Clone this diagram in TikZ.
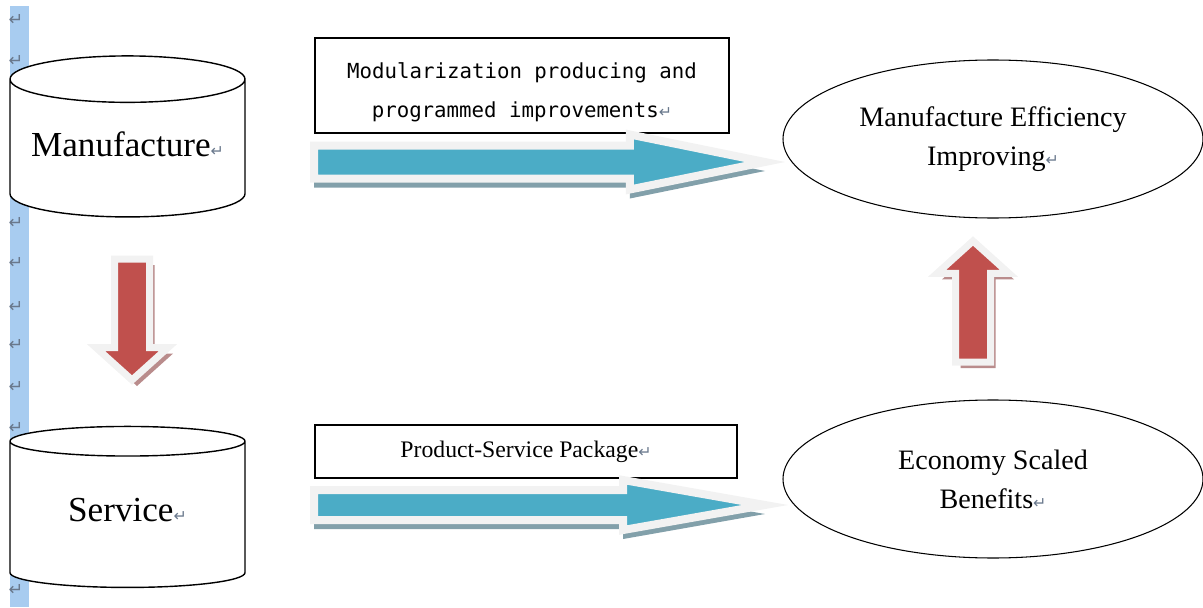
\documentclass[tikz,border=0pt]{standalone}
\usepackage{fontspec}
\setmainfont{Liberation Serif}
\newfontfamily\boxmono{DejaVu Sans Mono}
\newfontfamily\markfont{DejaVu Sans}
\usetikzlibrary{shapes.geometric,shapes.arrows,shadows}

\definecolor{barblue}{RGB}{168,204,240}
\definecolor{flowblue}{RGB}{75,172,198}
\definecolor{flowshade}{RGB}{130,160,170}
\definecolor{pushred}{RGB}{192,80,77}
\definecolor{pushshade}{RGB}{185,140,140}
\definecolor{glow}{RGB}{242,242,242}
\definecolor{markgray}{RGB}{105,120,140}

\newcommand{\ret}{{\markfont\fontsize{9}{9}\selectfont\color{markgray}↵}}

\tikzset{
  store/.style={cylinder, shape border rotate=90, aspect=0.227, draw, fill=white,
    line width=0.8pt, minimum width=4.7cm, minimum height=3.22cm,
    text depth=0.3cm, font=\fontsize{20}{24}\selectfont},
  goal/.style={ellipse, draw, line width=0.6pt, minimum width=8.4cm,
    minimum height=3.16cm, align=center, font=\fontsize{16}{22.1}\selectfont},
  note/.style={draw, line width=0.8pt, align=center, inner sep=0pt},
  flow/.style={single arrow, fill=flowblue, draw=glow, line width=0.16cm,
    anchor=tail, outer sep=0pt, minimum height=9.02cm,
    general shadow={fill=flowshade, shadow yshift=-0.18cm}},
  push/.style={single arrow, fill=pushred, draw=glow, line width=0.14cm,
    anchor=tail, outer sep=0pt, inner sep=0.28cm, minimum height=2.42cm,
    single arrow head extend=0.37cm, single arrow tip angle=96,
    general shadow={fill=pushshade, shadow xshift=0.1cm, shadow yshift=-0.12cm}},
  retmark/.style={inner sep=0pt, text=markgray, font=\markfont\fontsize{10}{10}\selectfont}
}

\begin{document}
\begin{tikzpicture}
\useasboundingbox (0,0) rectangle (24.06,12.14);

% paragraph mark bar
\fill[barblue] (0.2,0) rectangle (0.58,12.02);
\foreach \y [count=\i] in {11.74,10.92,7.68,6.88,6.0,5.24,4.4,3.58,0.34}
  \node[retmark] (ret\i) at (0.32,\y) {↵};

% left side
\node[store] (manu) at (2.55,9.10) {Manufacture\ret};
\node[store] (serv) at (2.55,1.80) {Service\ret};
\node[push, shape border rotate=270] (down) at (2.64,6.96) {};

% middle
\node[note, minimum width=8.28cm, minimum height=1.9cm,
  font=\boxmono\fontsize{11.8}{22}\selectfont] (modbox) at (10.44,10.43)
  {\rule{0pt}{0.6cm}Modularization producing and\\programmed improvements\ret};
\node[flow, inner sep=0.25cm, single arrow head extend=0.22cm,
  single arrow tip angle=23] (topflow) at (6.28,8.9) {};
\node[note, minimum width=8.44cm, minimum height=1.06cm,
  font=\fontsize{13.5}{16}\selectfont] (pspbox) at (10.52,3.11)
  {Product-Service Package\ret};
\node[flow, inner sep=0.22cm, single arrow head extend=0.2cm,
  single arrow tip angle=20] (lowflow) at (6.28,2.04) {};

% right side
\node[goal] (effic) at (19.86,9.36) {Manufacture Efficiency\\Improving\ret};
\node[goal] (scale) at (19.86,2.56) {Economy Scaled\\Benefits\ret};
\node[push, shape border rotate=90] (up) at (19.46,4.9) {};
\end{tikzpicture}
\end{document}
